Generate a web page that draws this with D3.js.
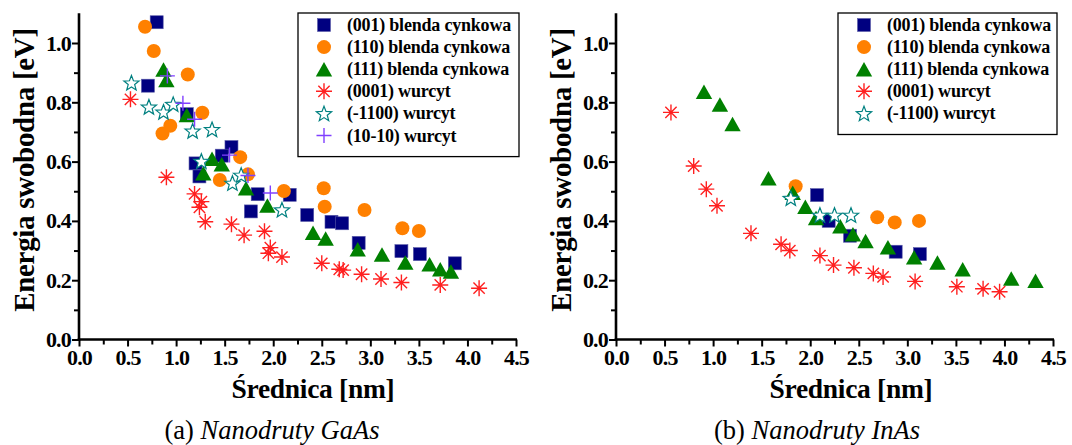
<!DOCTYPE html>
<html><head><meta charset="utf-8">
<script src="https://cdn.jsdelivr.net/npm/d3@7"></script>
<style>body{margin:0;background:#fff;}</style>
</head>
<body><svg id="chart" width="1072" height="445" font-family="Liberation Serif"></svg>
<script>
// ---------- data: GaAs (a) ----------
const gaas001 = [[0.80,1.07],[0.71,0.856],[1.11,0.76],[1.57,0.649],[1.20,0.594],[1.47,0.62],[1.24,0.55],[1.84,0.49],[2.17,0.488],[1.77,0.432],[2.35,0.42],[2.60,0.397],[2.71,0.392],[2.88,0.326],[3.32,0.298],[3.51,0.288],[3.87,0.257]];
const gaas110 = [[0.68,1.055],[0.77,0.973],[1.12,0.894],[1.27,0.765],[0.94,0.721],[0.86,0.695],[1.66,0.615],[1.45,0.538],[1.74,0.557],[2.11,0.501],[2.52,0.51],[2.53,0.448],[2.94,0.437],[3.33,0.375],[3.50,0.366]];
const gaas111 = [[0.87,0.911],[0.90,0.875],[1.11,0.757],[1.37,0.61],[1.47,0.591],[1.28,0.561],[1.72,0.51],[1.94,0.452],[2.41,0.36],[2.54,0.341],[2.87,0.304],[3.12,0.287],[3.36,0.26],[3.61,0.254],[3.72,0.237],[3.83,0.229]];
const gaas0001 = [[0.53,0.81],[0.90,0.547],[1.19,0.491],[1.26,0.465],[1.24,0.446],[1.30,0.397],[1.57,0.389],[1.70,0.352],[1.91,0.365],[1.97,0.31],[1.95,0.291],[2.09,0.278],[2.50,0.257],[2.68,0.237],[2.72,0.234],[2.91,0.22],[3.11,0.204],[3.32,0.192],[3.72,0.184],[4.12,0.173]];
const gaasM1100 = [[0.54,0.866],[0.72,0.785],[0.87,0.768],[0.97,0.794],[1.17,0.704],[1.37,0.709],[1.26,0.602],[1.58,0.528],[1.67,0.555],[2.09,0.438]];
const gaas1010 = [[0.91,0.889],[1.07,0.797],[1.19,0.743],[1.55,0.622],[1.74,0.553],[1.97,0.494]];
// ---------- data: InAs (b) ----------
const inas001 = [[2.07,0.487],[2.19,0.40],[2.41,0.35],[2.88,0.296],[3.13,0.288]];
const inas110 = [[1.85,0.517],[2.69,0.412],[2.87,0.395],[3.12,0.40]];
const inas111 = [[0.906,0.836],[1.07,0.793],[1.20,0.727],[1.57,0.544],[1.82,0.495],[1.95,0.448],[2.06,0.41],[2.31,0.382],[2.44,0.355],[2.57,0.332],[2.80,0.311],[3.07,0.277],[3.31,0.26],[3.57,0.237],[4.07,0.206],[4.32,0.198]];
const inas0001 = [[0.566,0.766],[0.80,0.585],[0.93,0.507],[1.04,0.451],[1.39,0.358],[1.70,0.321],[1.79,0.30],[2.10,0.283],[2.24,0.251],[2.45,0.242],[2.65,0.223],[2.75,0.211],[3.08,0.196],[3.51,0.178],[3.78,0.171],[3.95,0.161]];
const inasM1100 = [[1.80,0.477],[2.10,0.42],[2.25,0.42],[2.42,0.42]];
// ---------- labels ----------
const seriesNames = ["(001) blenda cynkowa","(110) blenda cynkowa","(111) blenda cynkowa","(0001) wurcyt","(-1100) wurcyt","(10-10) wurcyt"];
const xTicks = [0,0.5,1,1.5,2,2.5,3,3.5,4,4.5];
const xMinorTicks = [0.25,0.75,1.25,1.75,2.25,2.75,3.25,3.75,4.25];
const yTicks = [0,0.2,0.4,0.6,0.8,1.0];
const yMinorTicks = [0.1,0.3,0.5,0.7,0.9];
const xTitle = "Średnica [nm]";
const yTitle = "Energia swobodna [eV]";
const captionsPrefix = ["(a) ","(b) "];
const captionsItalic = ["Nanodruty GaAs","Nanodruty InAs"];

const FONT = "Liberation Serif";
const svg = d3.select("#chart");

const markerTypes = ["square","circle","triangle","asterisk","star","plus"];
function drawMarker(g, type, cx, cy) {
  if (type === "square") {
    g.append("rect").attr("x",cx-6.5).attr("y",cy-6.5).attr("width",13).attr("height",13)
      .attr("fill","#000080").attr("stroke","#5a5aa8").attr("stroke-width",0.6);
  } else if (type === "circle") {
    g.append("circle").attr("cx",cx).attr("cy",cy).attr("r",7).attr("fill","#ff8000");
  } else if (type === "triangle") {
    const w=8.2, h=14.5;
    g.append("path").attr("d",`M${cx},${cy-h/2}L${cx+w},${cy+h/2}L${cx-w},${cy+h/2}Z`).attr("fill","#008000");
  } else if (type === "asterisk") {
    const r=8, p=[];
    for (let k=0;k<4;k++){const a=k*Math.PI/4;p.push(`M${cx-r*Math.cos(a)},${cy-r*Math.sin(a)}L${cx+r*Math.cos(a)},${cy+r*Math.sin(a)}`);}
    g.append("path").attr("d",p.join("")).attr("stroke","#ff2020").attr("stroke-width",1.4).attr("fill","none");
  } else if (type === "star") {
    const R=8, r=3.4, pts=[];
    for (let k=0;k<10;k++){const a=-Math.PI/2+k*Math.PI/5;const rr=k%2?r:R;pts.push([cx+rr*Math.cos(a),cy+rr*Math.sin(a)+0.8]);}
    g.append("path").attr("d","M"+pts.map(p=>p.join(",")).join("L")+"Z").attr("fill","#fff").attr("stroke","#008080").attr("stroke-width",1.2);
  } else if (type === "plus") {
    const r=7.5;
    g.append("path").attr("d",`M${cx-r},${cy}L${cx+r},${cy}M${cx},${cy-r}L${cx},${cy+r}`).attr("stroke","#8040ff").attr("stroke-width",1.4);
  }
}

const panels = [
  {x0:79, x1:516, series:[gaas001,gaas110,gaas111,gaas0001,gaasM1100,gaas1010], legend:{x:298,y:13,w:221,n:6}, capX:272, titleX:313, yTitleX:34},
  {x0:616, x1:1053, series:[inas001,inas110,inas111,inas0001,inasM1100], legend:{x:838,y:13,w:219,n:5}, capX:817, titleX:851, yTitleX:571}
];

function styleAxis(a){
  a.attr("font-family",FONT);
  a.selectAll("text").attr("fill","#000").attr("font-size",22).attr("font-weight","bold").attr("letter-spacing",-0.8);
  a.selectAll("line").attr("stroke","#000").attr("stroke-width",2);
  a.select(".domain").remove();
}

panels.forEach((P, pi) => {
  const x = d3.scaleLinear().domain([0,4.5]).range([P.x0,P.x1]);
  const y = d3.scaleLinear().domain([0,1.1]).range([339.5, 339.5-1.1*296.5]);
  const g = svg.append("g");

  // x axis (major + minor)
  const xa = g.append("g").attr("transform",`translate(0,${y(0)})`)
    .call(d3.axisBottom(x).tickValues(xTicks).tickSize(7).tickPadding(3).tickFormat(d3.format(".1f")));
  styleAxis(xa);
  const xm = g.append("g").attr("transform",`translate(0,${y(0)})`)
    .call(d3.axisBottom(x).tickValues(xMinorTicks).tickSize(5).tickFormat(""));
  styleAxis(xm);
  g.append("line").attr("x1",x(0)-1.3).attr("x2",x(4.5)+1).attr("y1",y(0)).attr("y2",y(0)).attr("stroke","#000").attr("stroke-width",2.6);

  // y axis (major + minor)
  const ya = g.append("g").attr("transform",`translate(${x(0)},0)`)
    .call(d3.axisLeft(y).tickValues(yTicks).tickSize(7).tickPadding(1).tickFormat(d3.format(".1f")));
  styleAxis(ya);
  const ym = g.append("g").attr("transform",`translate(${x(0)},0)`)
    .call(d3.axisLeft(y).tickValues(yMinorTicks).tickSize(5).tickFormat(""));
  styleAxis(ym);
  g.append("line").attr("x1",x(0)).attr("x2",x(0)).attr("y1",y(0)+1.3).attr("y2",y(1.1)).attr("stroke","#000").attr("stroke-width",2.6);

  // titles
  g.append("text").attr("x",P.titleX).attr("y",398).attr("text-anchor","middle").attr("font-family",FONT)
    .attr("font-size",27.5).attr("font-weight","bold").attr("letter-spacing",-0.3).text(xTitle);
  g.append("text").attr("transform",`translate(${P.yTitleX},170) rotate(-90)`).attr("text-anchor","middle").attr("font-family",FONT)
    .attr("font-size",29).attr("font-weight","bold").attr("letter-spacing",-0.3).text(yTitle);
  const cap = g.append("text").attr("x",P.capX).attr("y",439).attr("text-anchor","middle").attr("font-family",FONT).attr("font-size",26.5);
  cap.append("tspan").text(captionsPrefix[pi]);
  cap.append("tspan").attr("font-style","italic").text(captionsItalic[pi]);

  // data
  P.series.forEach((data, si) => {
    const sg = g.append("g");
    data.forEach(d => drawMarker(sg, markerTypes[si], x(d[0]), y(d[1])));
  });

  // legend
  const L = P.legend;
  const lg = g.append("g");
  lg.append("rect").attr("x",L.x).attr("y",L.y).attr("width",L.w).attr("height",11+L.n*22.1)
    .attr("fill","none").attr("stroke","#000").attr("stroke-width",1.3);
  for (let i=0;i<L.n;i++){
    const cy = L.y+12+i*22.1;
    drawMarker(lg, markerTypes[i], L.x+26, cy);
    lg.append("text").attr("x",L.x+49).attr("y",cy+6).attr("font-family",FONT).attr("font-size",18).attr("font-weight","bold")
      .attr("letter-spacing",-0.2).text(seriesNames[i]);
  }
});
</script></body></html>
